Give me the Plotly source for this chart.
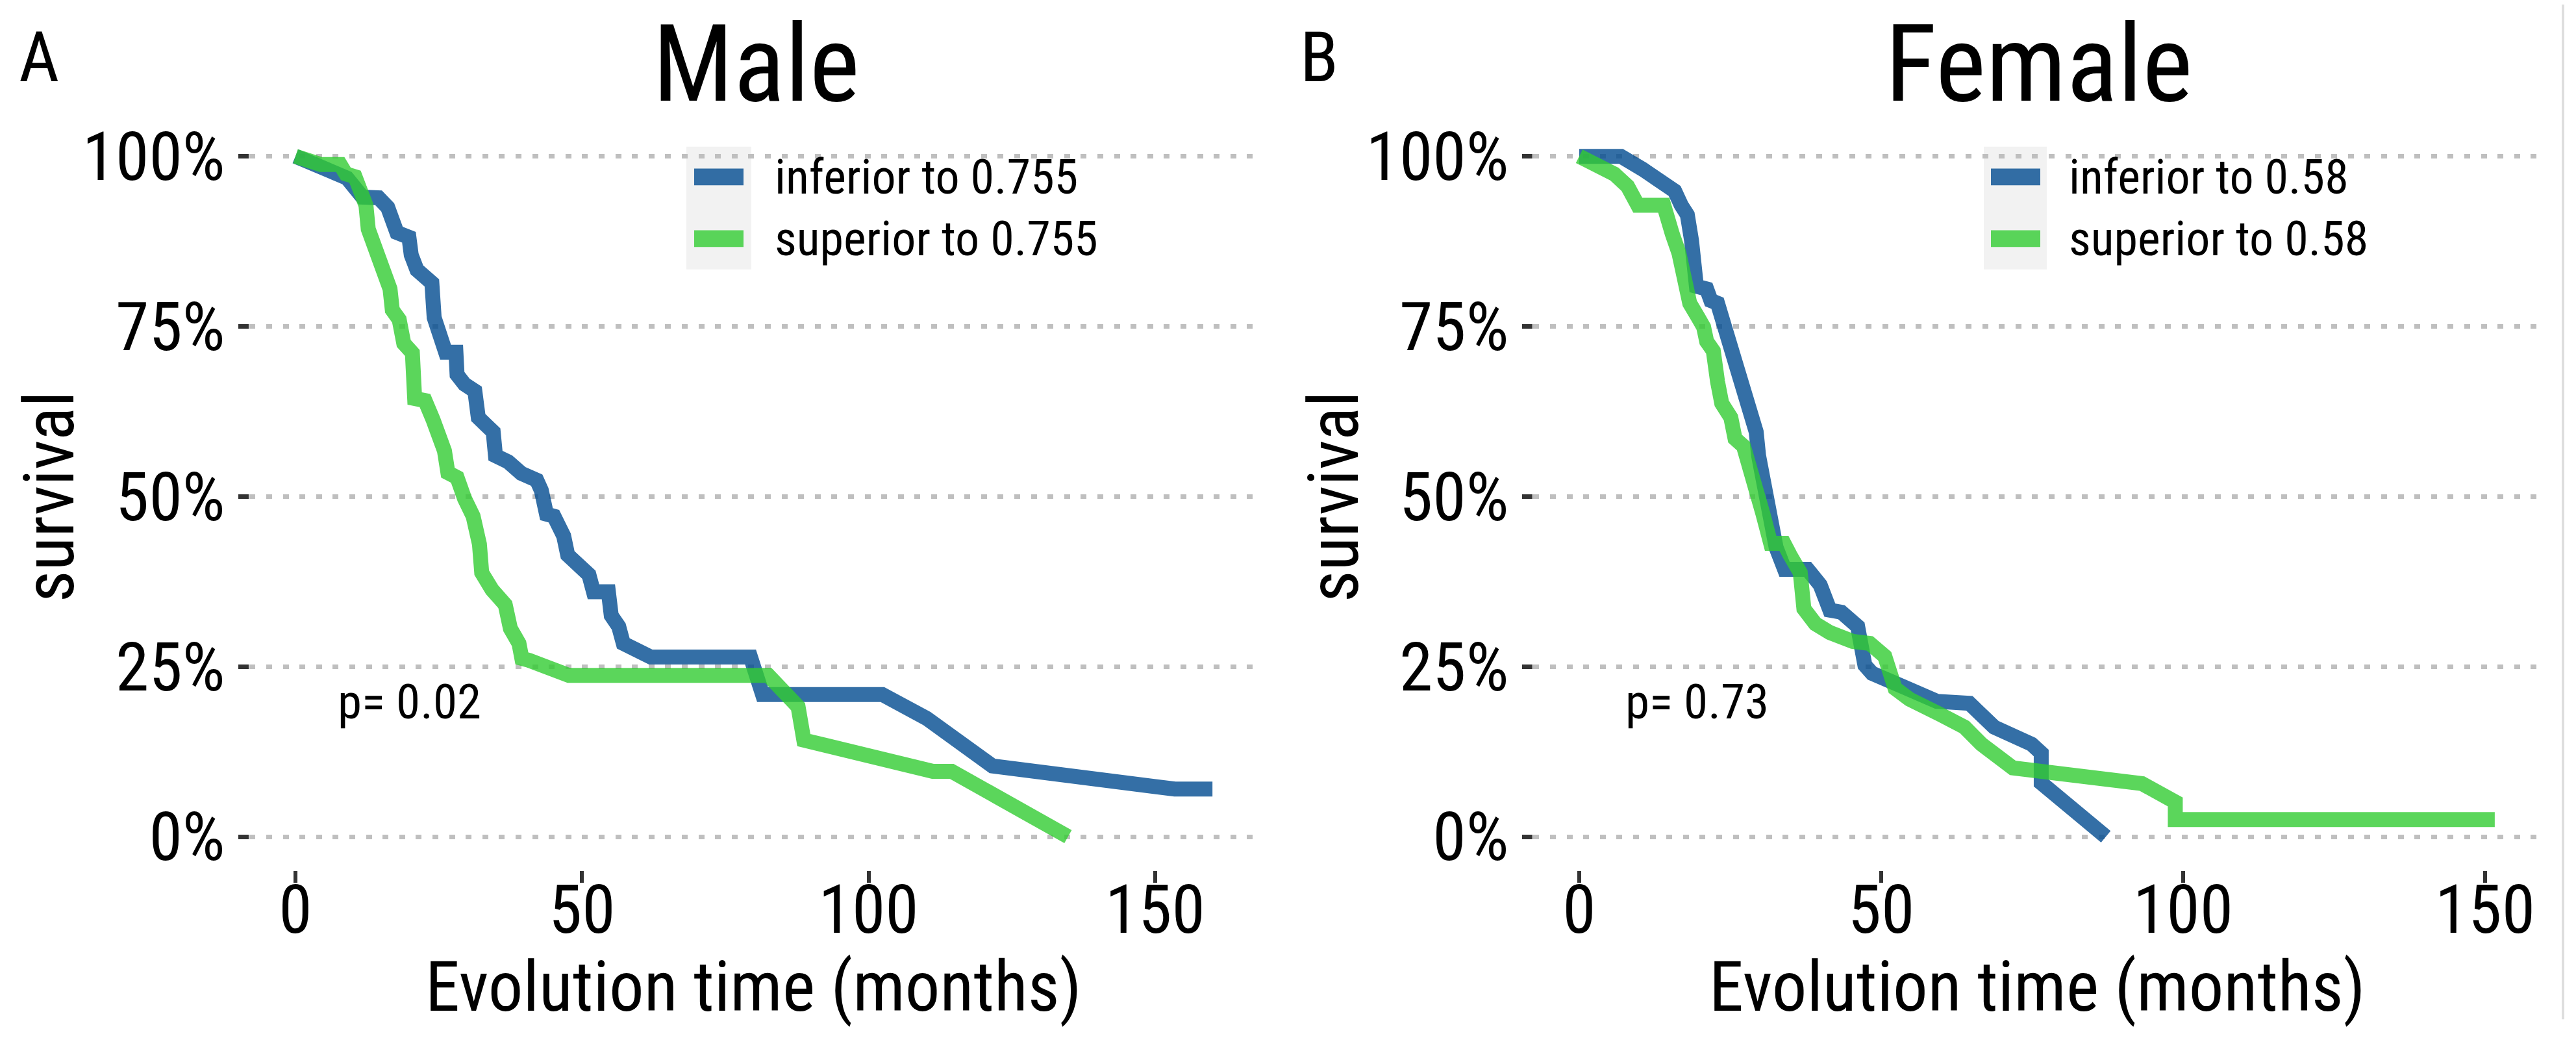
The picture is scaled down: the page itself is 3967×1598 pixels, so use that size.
import plotly.graph_objects as go

W, H = 3967, 1598

# ---------------- data (months, survival %) ----------------
male_inf_t = [0, 5.8, 9.0, 11.7, 14.5, 16.1, 17.1, 17.7, 19.8, 20.2, 21.2, 23.8, 24.2, 25.2, 26.2, 28.0,
              28.2, 29.5, 31.3, 31.9, 33.5, 34.5, 34.9, 37.1, 39.4, 42.1, 42.9, 43.8, 45.1, 46.8, 47.5,
              49.4, 51.2, 52.0, 54.6, 55.1, 56.4, 57.2, 59.0, 62.0, 79.4, 81.5, 102.4, 110.1, 121.6,
              153.4, 160.0]
male_inf_s = [100, 97.9, 96.8, 94.0, 93.9, 92.5, 90.0, 88.8, 88.1, 85.5, 83.3, 81.4, 76.3, 72.5, 71.2, 71.2,
              67.9, 66.5, 65.5, 61.6, 60.2, 59.5, 56.0, 55.1, 53.4, 52.4, 50.9, 47.4, 47.1, 44.2, 41.4,
              40.1, 38.5, 36.0, 36.0, 32.5, 30.9, 28.4, 27.8, 26.4, 26.4, 20.9, 20.9, 17.4, 10.4,
              7.0, 7.0]

male_sup_t = [0, 4.4, 7.8, 8.8, 10.4, 11.7, 12.3, 12.7, 13.7, 14.3, 15.5, 16.5, 16.9, 18.1, 18.9, 20.4,
              20.8, 22.6, 24.0, 26.0, 26.6, 28.2, 29.5, 31.0, 32.1, 32.5, 34.3, 36.6, 37.5, 39.0, 39.5,
              40.8, 47.7, 82.5, 87.7, 88.7, 111.2, 114.5, 134.8]
male_sup_s = [100, 98.8, 98.8, 97.4, 97.0, 94.9, 92.8, 89.3, 86.9, 85.1, 83.7, 80.5, 77.4, 76.0, 72.5, 71.1,
              64.4, 64.1, 61.3, 56.7, 53.5, 52.8, 49.7, 47.1, 43.0, 38.8, 36.3, 34.1, 30.6, 28.4, 26.2,
              25.9, 23.7, 23.7, 19.1, 14.2, 9.6, 9.6, 0]

female_inf_t = [0, 6.9, 10.5, 14.4, 15.8, 16.9, 17.9, 18.6, 19.2, 19.4, 21.1, 21.8, 22.9, 24.3, 25.2, 25.9,
                26.5, 27.2, 27.9, 29.3, 29.7, 30.4, 31.3, 32.6, 34.0, 37.8, 39.9, 41.5, 43.4, 46.1, 47.3,
                48.5, 53.5, 59.2, 64.6, 68.7, 74.9, 76.5, 76.5, 87.2]
female_inf_s = [100, 100, 98.1, 96.0, 94.9, 92.8, 91.4, 87.6, 83.3, 80.9, 80.5, 78.8, 78.4, 74.2, 72.5, 70.0,
                68.3, 65.8, 63.0, 59.5, 56.0, 52.5, 48.5, 42.5, 39.3, 39.3, 37.0, 33.3, 33.0, 30.9, 25.2,
                24.0, 22.1, 19.9, 19.6, 16.1, 13.6, 12.3, 7.9, 0]

female_sup_t = [0, 5.8, 8.0, 9.0, 9.7, 14.0, 14.4, 15.4, 16.5, 17.6, 18.3, 19.7, 20.6, 21.1, 22.2, 22.9,
                23.6, 25.1, 25.8, 27.2, 28.3, 29.2, 30.4, 31.7, 33.9, 34.9, 36.6, 37.2, 39.1, 41.5, 45.3,
                48.1, 50.6, 52.3, 54.7, 59.7, 63.8, 66.6, 71.8, 93.2, 98.7, 98.7, 151.6]
female_sup_s = [100, 97.4, 95.6, 93.5, 92.8, 92.8, 91.1, 88.6, 85.8, 81.2, 78.4, 76.3, 74.9, 72.8, 71.4, 66.9,
                63.7, 61.6, 58.5, 57.4, 53.2, 51.8, 47.5, 43.1, 43.1, 41.4, 38.8, 33.5, 31.3, 30.0, 28.7,
                28.4, 26.5, 21.8, 20.2, 18.0, 16.1, 13.6, 10.1, 7.8, 5.1, 2.5, 2.5]

x_tickvals = [0, 50, 100, 150]
y_tickvals = [0, 0.25, 0.5, 0.75, 1.0]
y_ticktext = ["0%", "25%", "50%", "75%", "100%"]
panel_titles = ["Male", "Female"]
panel_tags = ["A", "B"]
legend_male = ["inferior to 0.755", "superior to 0.755"]
legend_female = ["inferior to 0.58", "superior to 0.58"]
p_labels = ["p= 0.02", "p= 0.73"]
x_title = "Evolution time (months)"
y_title = "survival"

# ---------------- styling ----------------
FONT = "Roboto Condensed, Roboto, sans-serif"
BLUE = "rgba(1,75,144,0.8)"
GREEN = "rgba(50,204,50,0.8)"
LW = 23


def fx(px):
    return px / W


def fy(py):
    return 1 - py / H


fig = go.Figure()

panels = [
    dict(xa="x", ya="y", x0px=455, ppm=8.826, rng=[-8, 168],
         inf=(male_inf_t, male_inf_s), sup=(male_sup_t, male_sup_s), leg=legend_male),
    dict(xa="x2", ya="y2", x0px=2432, ppm=9.30, rng=[-7.6, 159.5],
         inf=(female_inf_t, female_inf_s), sup=(female_sup_t, female_sup_s), leg=legend_female),
]

for i, p in enumerate(panels):
    for (t, s), col, name in [(p["inf"], BLUE, p["leg"][0]), (p["sup"], GREEN, p["leg"][1])]:
        fig.add_trace(go.Scatter(x=t, y=[v / 100 for v in s], mode="lines", name=name,
                                 line=dict(color=col, width=LW), xaxis=p["xa"], yaxis=p["ya"],
                                 showlegend=False, hoverinfo="skip"))

y_dom = [1 - 1346.9 / H, 1 - 183.1 / H]
axis_common = dict(showline=False, zeroline=False, ticks="outside", tickcolor="#333333",
                   tickfont=dict(family=FONT, size=104, color="black"))

layout_axes = {}
for i, p in enumerate(panels):
    left = p["x0px"] + p["rng"][0] * p["ppm"]
    right = p["x0px"] + p["rng"][1] * p["ppm"]
    sfx = "" if i == 0 else str(i + 1)
    layout_axes["xaxis" + sfx] = dict(domain=[fx(left), fx(right)], range=p["rng"], showgrid=False,
                                      tickvals=x_tickvals, ticklen=18, tickwidth=6,
                                      ticklabelstandoff=-48,
                                      anchor="y" + sfx, **axis_common)
    layout_axes["yaxis" + sfx] = dict(domain=y_dom, range=[-0.05, 1.05], showgrid=True,
                                      gridcolor="#bfbfbf", gridwidth=7, griddash="9px,16.6px",
                                      tickvals=y_tickvals, ticktext=y_ticktext, ticklen=16, tickwidth=7,
                                      anchor="x" + sfx, **axis_common)

fig.update_layout(width=W, height=H, margin=dict(l=0, r=0, t=0, b=0), autosize=False,
                  plot_bgcolor="white", paper_bgcolor="white", showlegend=False,
                  font=dict(family=FONT, color="black"), **layout_axes)

shapes = []
ann = []

# legend boxes
leg_geo = [
    dict(white=(1027, 1918), gray=(1057, 1157), sw=(1069, 1145), tx=1191),
    dict(white=(3009, 3896), gray=(3055, 3152), sw=(3066, 3142), tx=3184),
]
row_y = [268, 364]
for i, g in enumerate(leg_geo):
    shapes.append(dict(type="rect", xref="paper", yref="paper", layer="between",
                       x0=fx(g["white"][0]), x1=fx(g["white"][1]), y0=fy(440), y1=fy(200),
                       fillcolor="white", line=dict(width=0)))
    shapes.append(dict(type="rect", xref="paper", yref="paper", layer="between",
                       x0=fx(g["gray"][0]), x1=fx(g["gray"][1]), y0=fy(412), y1=fy(221),
                       fillcolor="#f2f2f2", line=dict(width=0)))
    labels = legend_male if i == 0 else legend_female
    for j, col in enumerate([BLUE, GREEN]):
        shapes.append(dict(type="rect", xref="paper", yref="paper", layer="above",
                           x0=fx(g["sw"][0]), x1=fx(g["sw"][1]),
                           y0=fy(row_y[j] + 13), y1=fy(row_y[j] - 13),
                           fillcolor=col, line=dict(width=0)))
        ann.append(dict(xref="paper", yref="paper", x=fx(g["tx"]), y=fy(row_y[j]),
                        xanchor="left", yanchor="middle", showarrow=False, text=labels[j],
                        font=dict(family=FONT, size=74, color="black")))

# faint right border line
shapes.append(dict(type="line", xref="paper", yref="paper", x0=fx(3947), x1=fx(3947),
                   y0=fy(1578), y1=1, line=dict(color="#dedede", width=4)))

# titles, tags, axis titles, p-values
title_cx = [1164, 3140]
tag_cx = [60, 2031]
xtitle_cx = [1160, 3137]
ytitle_cx = [76, 2054]
p_x = [518, 2501]
for i in range(2):
    ann.append(dict(xref="paper", yref="paper", x=fx(title_cx[i]), y=fy(92), xanchor="center",
                    yanchor="middle", showarrow=False, text=panel_titles[i],
                    font=dict(family=FONT, size=165, color="black")))
    ann.append(dict(xref="paper", yref="paper", x=fx(tag_cx[i]), y=fy(82), xanchor="center",
                    yanchor="middle", showarrow=False, text=panel_tags[i],
                    font=dict(family=FONT, size=108, color="black")))
    ann.append(dict(xref="paper", yref="paper", x=fx(xtitle_cx[i]), y=fy(1528), xanchor="center",
                    yanchor="middle", showarrow=False, text=x_title,
                    font=dict(family=FONT, size=107, color="black")))
    ann.append(dict(xref="paper", yref="paper", x=fx(ytitle_cx[i]), y=fy(766), xanchor="center",
                    yanchor="middle", showarrow=False, text=y_title, textangle=-90,
                    font=dict(family=FONT, size=107, color="black")))
    ann.append(dict(xref="paper", yref="paper", x=fx(p_x[i]), y=fy(1084), xanchor="left",
                    yanchor="middle", showarrow=False, text=p_labels[i],
                    font=dict(family=FONT, size=75, color="black")))

fig.update_layout(shapes=shapes, annotations=ann)

fig.write_html("out.html", config={"displayModeBar": False},
               post_script="document.body.style.margin='0';document.body.style.overflow='hidden';")
